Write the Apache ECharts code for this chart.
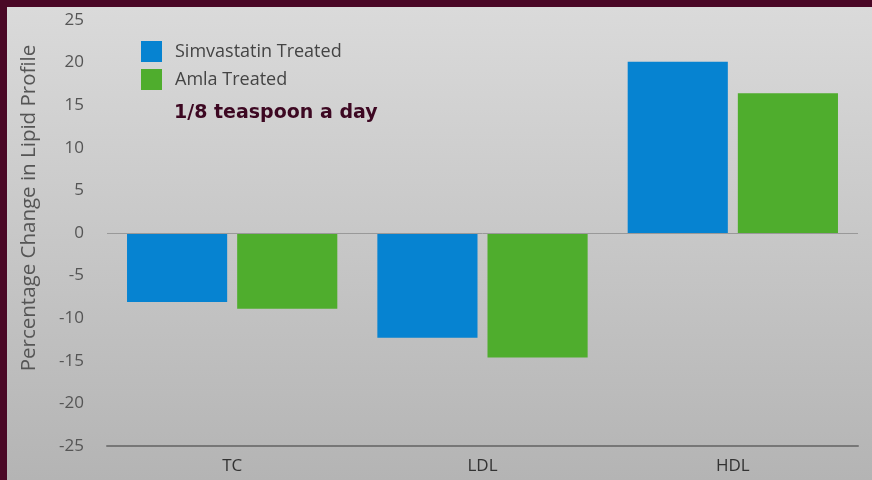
<!DOCTYPE html>
<html><head><meta charset="utf-8">
<script src="https://cdn.jsdelivr.net/npm/echarts@6/dist/echarts.min.js"></script>
<style>html,body{margin:0;padding:0;background:#4a0826;}#c{width:872px;height:480px;}</style>
</head><body><div id="c"></div>
<script>
var categories = ['TC', 'LDL', 'HDL'];
var simvastatin = [-8.1, -12.3, 20.1];
var amla = [-8.9, -14.6, 16.4];
var seriesNames = ['Simvastatin Treated', 'Amla Treated'];
var note = '1/8 teaspoon a day';
var yTitle = 'Percentage Change in Lipid Profile';

var chart = echarts.init(document.getElementById('c'), null, {renderer: 'canvas'});
chart.setOption({
  backgroundColor: '#4a0826',
  animation: false,
  graphic: [
    {type: 'rect', left: 7, top: 7, z: -10, shape: {width: 865, height: 473},
     style: {fill: new echarts.graphic.LinearGradient(0, 0, 0, 1, [
       {offset: 0, color: '#dadada'}, {offset: 1, color: '#b4b4b4'}])}},
    {type: 'text', left: 174, top: 104, style: {text: note, font: 'bold 19px "DejaVu Sans"', fill: '#3d0822'}},
    {type: 'text', x: 29, y: 208, rotation: Math.PI / 2,
     style: {text: yTitle, font: '20.5px "Open Sans"', fill: '#555', align: 'center', verticalAlign: 'middle'}}
  ],
  legend: {
    orient: 'vertical', left: 136, top: 36, itemWidth: 21, itemHeight: 21, itemGap: 7,
    icon: 'rect',
    textStyle: {fontFamily: 'Open Sans', fontSize: 18, color: '#444', padding: [0, 0, 0, 8]},
    data: seriesNames
  },
  grid: {left: 107, right: 14, top: 20, bottom: 34},
  xAxis: {
    type: 'category', data: categories,
    axisLine: {onZero: false, lineStyle: {color: '#777', width: 2}},
    axisTick: {show: false},
    axisLabel: {fontFamily: 'Open Sans', fontSize: 17, color: '#333', margin: 12}
  },
  yAxis: {
    type: 'value', min: -25, max: 25, interval: 5,
    axisLine: {show: false}, axisTick: {show: false},
    splitLine: {show: false},
    axisLabel: {fontFamily: 'Open Sans', fontSize: 17, color: '#555', margin: 23}
  },
  series: [
    {name: seriesNames[0], type: 'bar', data: simvastatin, barGap: '10%', barCategoryGap: '16%',
     itemStyle: {color: '#0683d1'},
     markLine: {silent: true, symbol: 'none', label: {show: false},
       lineStyle: {color: '#999', width: 1, type: 'solid'}, data: [{yAxis: 0}]}},
    {name: seriesNames[1], type: 'bar', data: amla, itemStyle: {color: '#4fad2d'}}
  ]
});
</script></body></html>
